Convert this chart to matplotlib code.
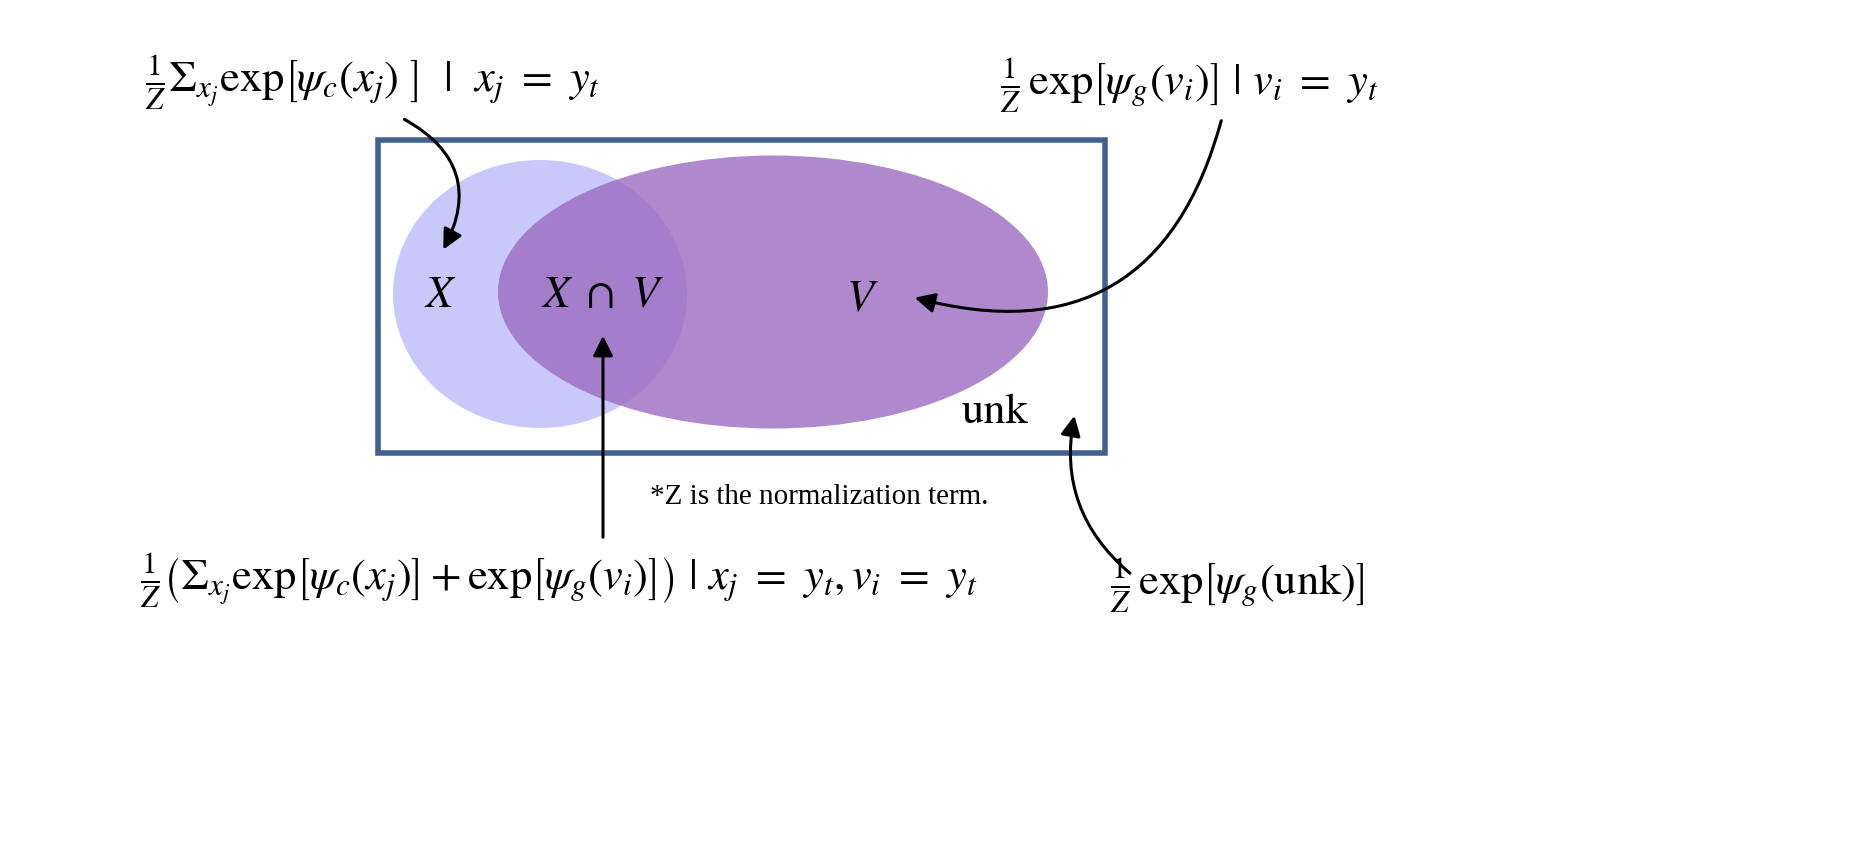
import matplotlib.pyplot as plt
from matplotlib.patches import Ellipse, Rectangle, FancyArrowPatch

plt.rcParams['mathtext.fontset'] = 'stix'
plt.rcParams['font.family'] = ['STIXGeneral', 'Liberation Serif', 'DejaVu Serif']

# set regions (pixel units, y grows downward)
region_names = ['X', 'V']
region_centers = [(540, 294), (773, 292)]
region_sizes = [(294, 268), (550, 273)]
region_colors = ['#c9c8fb', '#9b6cbf']
region_alphas = [1.0, 0.8]

region_labels = [r'$X$', r'$X\ \cap\ V$', r'$V$', 'unk']
region_label_pos = [(440, 297), (602, 297), (862, 300), (995, 413)]

formulas = [
    r'$\frac{1}{Z}\Sigma_{x_j}\mathrm{exp}\left[\psi_c\left(x_j\right)\ \right]\ \ |\ \ x_j\ =\ y_t$',
    r'$\frac{1}{Z}\,\mathrm{exp}\left[\psi_g\left(v_i\right)\right]\ |\ v_i\ =\ y_t$',
    r'$\frac{1}{Z}\left(\Sigma_{x_j}\mathrm{exp}\left[\psi_c\left(x_j\right)\right]+\mathrm{exp}\left[\psi_g\left(v_i\right)\right]\right)\ |\ x_j\ =\ y_t,v_i\ =\ y_t$',
    r'$\frac{1}{Z}\,\mathrm{exp}\left[\psi_g(\mathrm{unk})\right]$',
]
formula_pos = [(145, 82), (1000, 85), (140, 580), (1110, 585)]

arrows = [((402, 118), (442, 252), -0.5),
          ((1222, 118), (912, 297), -0.5),
          ((603, 540), (603, 333), 0.0),
          ((1132, 575), (1075, 413), -0.3)]

fig = plt.figure(figsize=(18.69, 8.52), dpi=100)
ax = fig.add_axes([0, 0, 1, 1])
ax.set_xlim(0, 1869)
ax.set_ylim(852, 0)
ax.axis('off')

ax.add_patch(Rectangle((378, 140), 727, 313, fill=False, ec='#41618f', lw=4))
for c, s, col, a in zip(region_centers, region_sizes, region_colors, region_alphas):
    ax.add_patch(Ellipse(c, s[0], s[1], fc=col, ec='none', alpha=a))

for t, (x, y) in zip(region_labels, region_label_pos):
    ax.text(x, y, t, fontsize=32, ha='center', va='center')

for t, (x, y) in zip(formulas, formula_pos):
    ax.text(x, y, t, fontsize=32, ha='left', va='center')

ax.text(650, 497, '*Z is the normalization term.', fontsize=21, ha='left',
        va='center', family='Liberation Serif')

for start, end, rad in arrows:
    ax.add_patch(FancyArrowPatch(start, end, connectionstyle=f'arc3,rad={rad}',
                                 arrowstyle='-|>,head_length=12,head_width=6',
                                 lw=2.2, color='black'))

fig.savefig('out.png', dpi=100)
